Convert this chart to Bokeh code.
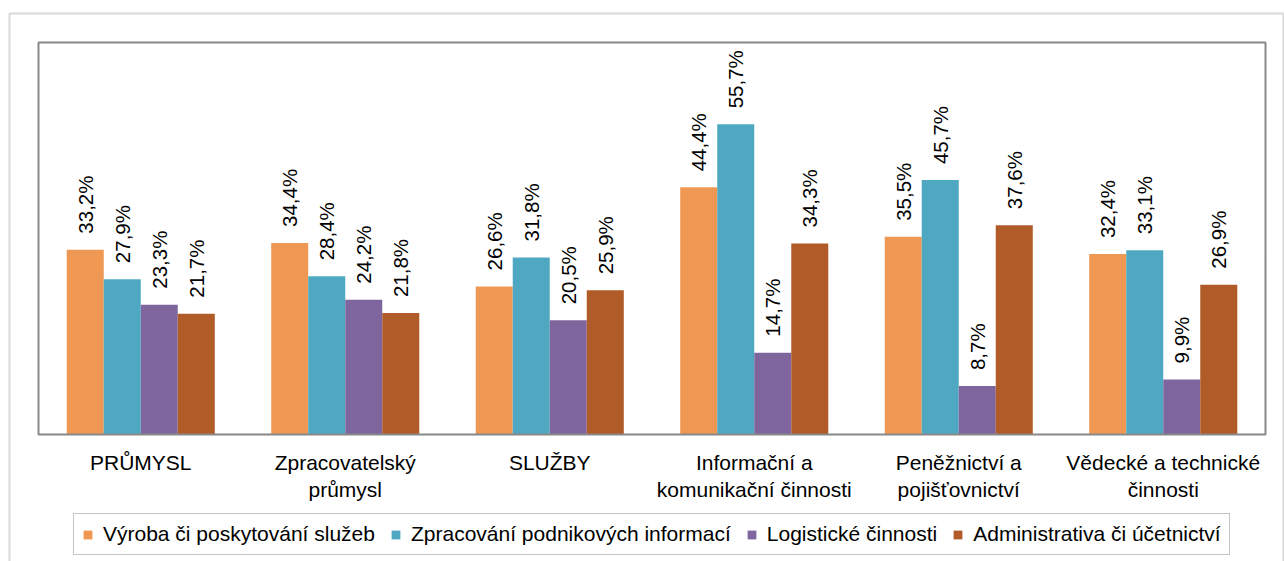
from bokeh.plotting import figure
from bokeh.models import (ColumnDataSource, Range1d, Legend, LegendItem, LabelSet,
                          BoxAnnotation, FixedTicker)
from bokeh.core.properties import value
from bokeh.embed import file_html
from bokeh.resources import INLINE

categories = ["PRŮMYSL", "Zpracovatelský\nprůmysl", "SLUŽBY",
              "Informační a\nkomunikační činnosti", "Peněžnictví a\npojišťovnictví",
              "Vědecké a technické\nčinnosti"]
series_names = ["Výroba či poskytování služeb", "Zpracování podnikových informací",
                "Logistické činnosti", "Administrativa či účetnictví"]
vyroba = [33.2, 34.4, 26.6, 44.4, 35.5, 32.4]
zpracovani = [27.9, 28.4, 31.8, 55.7, 45.7, 33.1]
logisticke = [23.3, 24.2, 20.5, 14.7, 8.7, 9.9]
administrativa = [21.7, 21.8, 25.9, 34.3, 37.6, 26.9]
colors = ["#EF9853", "#4EA8C1", "#7F659E", "#B05B28"]

series = [vyroba, zpracovani, logisticke, administrativa]
FONT = "Liberation Sans"

W, H = 1284, 561
# plot area in pixels: left 38, right 1265, top 42, bottom 434
Y_MAX = 70.4
ppx = (1265 - 38) / len(categories)
ppy = (434 - 42) / Y_MAX
x_range = Range1d(-0.5 - 38 / ppx, len(categories) - 0.5 + (W - 1265) / ppx)
y_range = Range1d(-(H - 434) / ppy, Y_MAX + 42 / ppy)

p = figure(x_range=x_range, y_range=y_range, width=W, height=H,
           output_backend="svg", toolbar_location=None,
           min_border=0, min_border_left=0, min_border_right=0,
           min_border_top=0, min_border_bottom=0)
p.outline_line_color = None

idx = list(range(len(categories)))
w = 0.181
offsets = [-1.5 * w, -0.5 * w, 0.5 * w, 1.5 * w]
items = []
for name, vals, col, off in zip(series_names, series, colors, offsets):
    src = ColumnDataSource(dict(x=[i + off for i in idx], y=vals,
                                lab=[f"{v:.1f}".replace(".", ",") + "%" for v in vals]))
    r = p.vbar(x="x", top="y", width=w, source=src, fill_color=col, line_color=None)
    items.append(LegendItem(label=name, renderers=[r]))
    p.add_layout(LabelSet(x="x", y="y", text="lab", source=src,
                          angle=1.5708, text_align="left", text_baseline="middle",
                          y_offset=16, text_font=value(FONT), text_font_size="20.5px",
                          text_color="#000000"))

# plot area border
p.add_layout(BoxAnnotation(left=-0.5, right=len(categories) - 0.5, bottom=0, top=Y_MAX,
                           fill_color=None, fill_alpha=0, line_color="#888888",
                           line_alpha=1.0, line_width=2))
# outer chart border (screen y measured from the bottom)
p.add_layout(BoxAnnotation(left=9, right=1283, top=H - 13, bottom=-60,
                           left_units="screen", right_units="screen",
                           top_units="screen", bottom_units="screen",
                           fill_color=None, fill_alpha=0, line_color="#d9d9d9",
                           line_alpha=1.0, line_width=2))

p.xgrid.grid_line_color = None
p.ygrid.grid_line_color = None
p.yaxis.visible = False
p.xaxis.fixed_location = 0
p.xaxis.ticker = FixedTicker(ticks=idx)
p.xaxis.major_label_overrides = {i: c for i, c in zip(idx, categories)}
p.xaxis.axis_line_color = None
p.xaxis.major_tick_line_color = None
p.xaxis.minor_tick_line_color = None
p.xaxis.major_label_text_font = FONT
p.xaxis.major_label_text_font_size = "21px"
p.xaxis.major_label_text_color = "#000000"
p.xaxis.major_label_standoff = 10

legend = Legend(items=items, location=(73, 6), orientation="horizontal",
                label_text_font=FONT, label_text_font_size="21px", label_text_color="#000000",
                glyph_width=11, glyph_height=11, label_standoff=10, spacing=15,
                padding=8, margin=0, border_line_color="#8c8c8c", border_line_width=1.5,
                background_fill_alpha=1.0)
p.add_layout(legend, "center")

open("out.html", "w").write(file_html(p, INLINE))
